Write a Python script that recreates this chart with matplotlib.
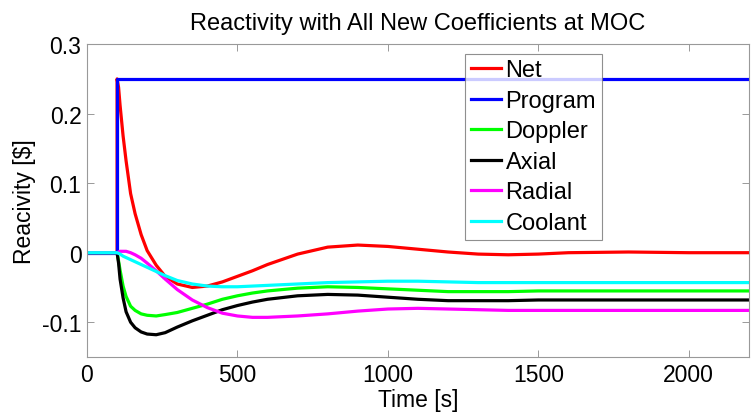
import matplotlib
matplotlib.use("Agg")
import matplotlib.pyplot as plt

plt.rcParams["font.family"] = ["Liberation Sans", "DejaVu Sans"]

# time grid shared by the feedback curves [s]
time = [0, 100, 105, 110, 120, 130, 145, 160, 180, 200, 230, 260, 300, 350, 400, 450,
        500, 550, 600, 700, 800, 900, 1000, 1100, 1200, 1300, 1400, 1500, 1600, 1800,
        2000, 2200]

# net reactivity jumps with the step at t = 100 s
net_time = [0, 100, 100, 105, 110, 120, 130, 145, 160, 180, 200, 230, 260, 300, 350,
            400, 450, 500, 550, 600, 700, 800, 900, 1000, 1100, 1200, 1300, 1400, 1500,
            1600, 1800, 2000, 2200]
net = [0, 0, 0.25, 0.238, 0.212, 0.168, 0.132, 0.085, 0.056, 0.026, 0.003, -0.018,
       -0.034, -0.045, -0.050, -0.048, -0.042, -0.034, -0.026, -0.017, -0.002, 0.008,
       0.011, 0.009, 0.005, 0.001, -0.002, -0.003, -0.002, 0.0, 0.001, 0.0, 0.0]
doppler = [0, 0, -0.012, -0.025, -0.048, -0.063, -0.077, -0.083, -0.088, -0.090, -0.091,
           -0.089, -0.086, -0.080, -0.074, -0.067, -0.062, -0.058, -0.055, -0.051, -0.049,
           -0.050, -0.052, -0.054, -0.056, -0.056, -0.056, -0.055, -0.055, -0.055, -0.055,
           -0.055]
axial = [0, 0, -0.015, -0.038, -0.065, -0.085, -0.100, -0.108, -0.114, -0.117, -0.118,
         -0.115, -0.107, -0.098, -0.090, -0.082, -0.076, -0.071, -0.067, -0.062, -0.060,
         -0.061, -0.064, -0.067, -0.069, -0.069, -0.069, -0.068, -0.068, -0.068, -0.068,
         -0.068]
radial = [0, 0, 0.001, 0.002, 0.002, 0.002, 0.0, -0.003, -0.008, -0.015, -0.026, -0.038,
          -0.053, -0.068, -0.079, -0.087, -0.091, -0.093, -0.093, -0.091, -0.088, -0.084,
          -0.081, -0.080, -0.081, -0.082, -0.083, -0.083, -0.083, -0.083, -0.083, -0.083]
coolant = [0, 0, -0.001, -0.002, -0.005, -0.007, -0.010, -0.013, -0.017, -0.021, -0.027,
           -0.033, -0.040, -0.045, -0.048, -0.049, -0.049, -0.048, -0.047, -0.045, -0.043,
           -0.042, -0.041, -0.041, -0.042, -0.043, -0.043, -0.043, -0.043, -0.043, -0.043,
           -0.043]

# programmed step insertion
prog_time = [0, 100, 100, 2200]
program = [0, 0, 0.25, 0.25]

xticks = [0, 500, 1000, 1500, 2000]
yticks = [-0.1, 0, 0.1, 0.2, 0.3]
ytick_labels = ["-0.1", "0", "0.1", "0.2", "0.3"]

fig = plt.figure(figsize=(7.55, 4.14), dpi=100)
ax = fig.add_axes([0.1152, 0.1353, 0.8768, 0.7557])

lw = 2.3
ax.plot(net_time, net, color="#ff0000", lw=lw, label="Net")
ax.plot(prog_time, program, color="#0000ff", lw=lw, label="Program")
ax.plot(time, doppler, color="#00ff00", lw=lw, label="Doppler")
ax.plot(time, axial, color="#000000", lw=lw, label="Axial")
ax.plot(time, radial, color="#ff00ff", lw=lw, label="Radial")
ax.plot(time, coolant, color="#00ffff", lw=lw, label="Coolant")

ax.set_xlim(0, 2200)
ax.set_ylim(-0.15, 0.3)
ax.set_xticks(xticks)
ax.set_yticks(yticks)
ax.set_yticklabels(ytick_labels)
ax.tick_params(direction="in", top=True, right=True, length=5, width=0.7,
               color="0.6", labelsize=16.5, pad=4)
for s in ax.spines.values():
    s.set_color("0.6")
    s.set_linewidth(0.8)

ax.set_xlabel("Time [s]", fontsize=16.5, labelpad=2)
ax.set_ylabel("Reacivity [\\$]", fontsize=16.5, labelpad=4)
ax.set_title("Reactivity with All New Coefficients at MOC", fontsize=17, pad=11)

leg = ax.legend(loc="upper left", bbox_to_anchor=(0.571, 0.970), fontsize=17,
                frameon=True, fancybox=False, handlelength=1.27, handletextpad=0.2,
                labelspacing=0.36, borderpad=0.25, borderaxespad=0)
leg.get_frame().set_edgecolor("0.45")
leg.get_frame().set_linewidth(0.8)

fig.savefig("out.png", dpi=100)
